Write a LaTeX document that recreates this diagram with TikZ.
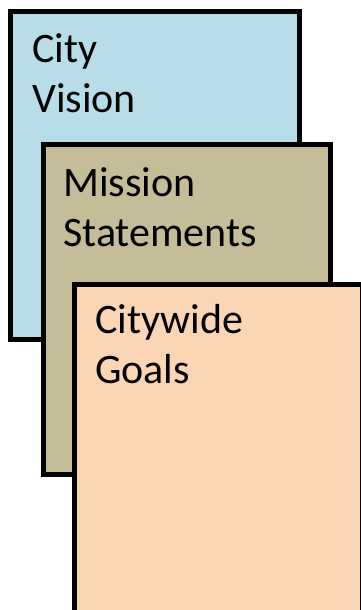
\documentclass[tikz,border=0pt]{standalone}
\usepackage{fontspec}
\setmainfont{Carlito}
\definecolor{visionblue}{HTML}{B7DEE8}
\definecolor{missiontan}{HTML}{C4BD97}
\definecolor{goalpeach}{HTML}{FCD5B5}
\tikzset{
  card/.style={line width=5pt, draw=black},
  cardtext/.style={anchor=base west, inner sep=0pt, align=left,
    font=\fontsize{42}{50}\selectfont}
}
\begin{document}
\begin{tikzpicture}[x=1pt, y=-1pt]
      \useasboundingbox (0, 0) rectangle (361, 610);
      \begin{scope}
      \clip (0, 0) rectangle (361, 610);
      \filldraw[card, fill=visionblue] (10.5, 11.5) rectangle (299, 339.5);
      \node[cardtext] (vision) at (32, 112) {City\\Vision};
      \filldraw[card, fill=missiontan] (43, 144.5) rectangle (330.5, 474.5);
      \node[cardtext] (mission) at (63, 246) {Mission\\Statements};
      \filldraw[card, fill=goalpeach] (74.5, 284) rectangle (362.5, 612);
      \node[cardtext] (goals) at (95, 383) {Citywide\\Goals};
      \end{scope}
    \end{tikzpicture}
\end{document}
